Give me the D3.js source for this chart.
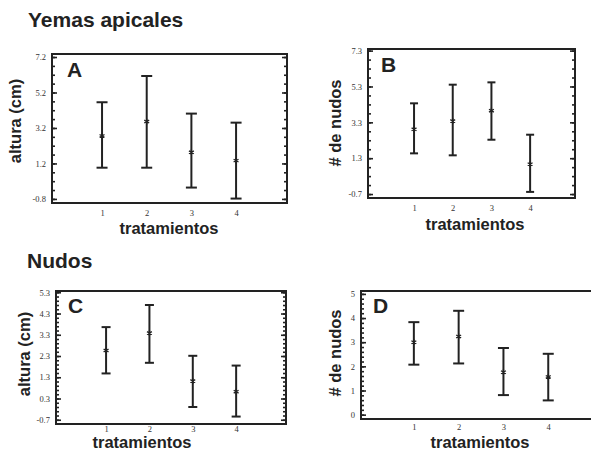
<!DOCTYPE html>
<html>
<head>
<meta charset="utf-8">
<script src="https://cdn.jsdelivr.net/npm/d3@7"></script>
<style>
  body { margin: 0; background: #fff; }
  svg { display: block; }
</style>
</head>
<body>
<div id="chart"></div>
<script>
var tratamientos = [1, 2, 3, 4];

// A - Yemas apicales, altura
var mediaA = [2.75, 3.56, 1.83, 1.36];
var infA = [0.96, 0.96, -0.16, -0.78];
var supA = [4.65, 6.13, 4.01, 3.50];
var ticksA = [-0.8, 1.2, 3.2, 5.2, 7.2];

// B - Yemas apicales, # de nudos
var mediaB = [2.91, 3.37, 3.95, 0.97];
var infB = [1.57, 1.46, 2.33, -0.58];
var supB = [4.36, 5.40, 5.53, 2.61];
var ticksB = [-0.7, 1.3, 3.3, 5.3, 7.3];

// C - Nudos, altura
var mediaC = [2.56, 3.38, 1.12, 0.62];
var infC = [1.48, 1.98, -0.10, -0.55];
var supC = [3.66, 4.70, 2.31, 1.85];
var ticksC = [-0.7, 0.3, 1.3, 2.3, 3.3, 4.3, 5.3];

// D - Nudos, # de nudos
var mediaD = [3.00, 3.24, 1.76, 1.56];
var infD = [2.07, 2.12, 0.81, 0.59];
var supD = [3.83, 4.30, 2.76, 2.52];
var ticksD = [0, 1, 2, 3, 4, 5];

var W = 591, H = 452;
var color = '#222';
var sansBold = '"Liberation Sans", Arial, sans-serif';
var serif = '"Liberation Serif", "Times New Roman", serif';

var svg = d3.select('#chart')
  .append('svg')
  .attr('width', W)
  .attr('height', H);

function fmt1(d) { return d.toFixed(1); }
function fmt0(d) { return String(d); }

// titulos de seccion
svg.append('text')
  .attr('x', 28).attr('y', 27)
  .attr('font-family', sansBold).attr('font-weight', 'bold')
  .attr('font-size', 21).attr('fill', color)
  .text('Yemas apicales');
svg.append('text')
  .attr('x', 27).attr('y', 268)
  .attr('font-family', sansBold).attr('font-weight', 'bold')
  .attr('font-size', 21).attr('fill', color)
  .text('Nudos');

function drawPanel(opt) {
  var x = d3.scaleLinear().domain(opt.xDomain).range([opt.left, opt.right]);
  var y = d3.scaleLinear().domain(opt.yDomain).range([opt.bottom, opt.top]);
  var g = svg.append('g').attr('class', 'panel');

  var minor = d3.range(d3.min(opt.ticks), opt.yDomain[1], opt.minorStep)
    .filter(function (d) { return d > opt.yDomain[0] && d < opt.yDomain[1]; });

  // ticks menores izquierda / derecha
  g.append('g')
    .attr('transform', 'translate(' + opt.left + ',0)')
    .call(d3.axisLeft(y).tickValues(minor).tickSize(-3).tickFormat(''))
    .call(function (s) { s.select('.domain').remove(); });
  g.append('g')
    .attr('transform', 'translate(' + opt.right + ',0)')
    .call(d3.axisRight(y).tickValues(minor).tickSize(-3).tickFormat(''))
    .call(function (s) { s.select('.domain').remove(); });

  // ticks mayores
  var yAxis = g.append('g')
    .attr('transform', 'translate(' + opt.left + ',0)')
    .call(d3.axisLeft(y).tickValues(opt.ticks).tickSize(-5).tickPadding(6).tickFormat(opt.format));
  yAxis.select('.domain').remove();
  yAxis.selectAll('text')
    .attr('font-family', serif).attr('font-size', 8.5).attr('fill', '#333');
  g.append('g')
    .attr('transform', 'translate(' + opt.right + ',0)')
    .call(d3.axisRight(y).tickValues(opt.ticks).tickSize(-5).tickFormat(''))
    .call(function (s) { s.select('.domain').remove(); });

  g.selectAll('.tick line').attr('stroke', color).attr('stroke-width', 1.6);

  var xAxis = g.append('g')
    .attr('transform', 'translate(0,' + opt.bottom + ')')
    .call(d3.axisBottom(x).tickValues(tratamientos).tickSize(0).tickPadding(opt.xPad).tickFormat(fmt0));
  xAxis.select('.domain').remove();
  xAxis.selectAll('text')
    .attr('font-family', serif).attr('font-size', 8.5).attr('fill', '#333');

  // marco
  g.append('rect')
    .attr('x', opt.left).attr('y', opt.top)
    .attr('width', opt.right - opt.left)
    .attr('height', opt.bottom - opt.top)
    .attr('fill', 'none')
    .attr('stroke', color)
    .attr('stroke-width', 2);

  var rows = tratamientos.map(function (t, i) {
    return { t: t, m: opt.media[i], lo: opt.inf[i], hi: opt.sup[i] };
  });

  var bars = g.selectAll('.bar')
    .data(rows)
    .enter()
    .append('g')
    .attr('class', 'bar')
    .attr('stroke', color)
    .attr('stroke-width', 2);

  bars.append('line')
    .attr('x1', function (d) { return x(d.t); })
    .attr('x2', function (d) { return x(d.t); })
    .attr('y1', function (d) { return y(d.lo); })
    .attr('y2', function (d) { return y(d.hi); });
  bars.append('line')
    .attr('x1', function (d) { return x(d.t) - opt.cap / 2; })
    .attr('x2', function (d) { return x(d.t) + opt.cap / 2; })
    .attr('y1', function (d) { return y(d.hi); })
    .attr('y2', function (d) { return y(d.hi); });
  bars.append('line')
    .attr('x1', function (d) { return x(d.t) - opt.cap / 2; })
    .attr('x2', function (d) { return x(d.t) + opt.cap / 2; })
    .attr('y1', function (d) { return y(d.lo); })
    .attr('y2', function (d) { return y(d.lo); });

  // media
  g.selectAll('.media')
    .data(rows)
    .enter()
    .append('path')
    .attr('class', 'media')
    .attr('d', d3.symbol().type(d3.symbolAsterisk).size(22))
    .attr('transform', function (d) { return 'translate(' + x(d.t) + ',' + y(d.m) + ')'; })
    .attr('fill', 'none')
    .attr('stroke', color)
    .attr('stroke-width', 1.3);

  // letra del panel
  g.append('text')
    .attr('x', opt.letterX).attr('y', opt.letterY)
    .attr('font-family', sansBold).attr('font-weight', 'bold')
    .attr('font-size', 21).attr('fill', color)
    .text(opt.letter);

  // titulos de ejes
  g.append('text')
    .attr('x', opt.xLabelX).attr('y', opt.xLabelY)
    .attr('text-anchor', 'middle')
    .attr('font-family', sansBold).attr('font-weight', 'bold')
    .attr('font-size', 16.5).attr('fill', color)
    .text('tratamientos');
  g.append('text')
    .attr('transform', 'translate(' + opt.yLabelX + ',' + opt.yLabelY + ') rotate(-90)')
    .attr('text-anchor', 'middle')
    .attr('font-family', sansBold).attr('font-weight', 'bold')
    .attr('font-size', 16.5).attr('fill', color)
    .text(opt.yLabel);
}

drawPanel({
  letter: 'A', letterX: 67, letterY: 77,
  left: 52, right: 287, top: 54, bottom: 203,
  xDomain: [-0.12, 5.14], yDomain: [-1.03, 7.37],
  ticks: ticksA, minorStep: 0.5, format: fmt1, cap: 11, xPad: 6.5,
  media: mediaA, inf: infA, sup: supA,
  yLabel: 'altura (cm)', yLabelX: 21, yLabelY: 121,
  xLabelX: 169, xLabelY: 234
});

drawPanel({
  letter: 'B', letterX: 381, letterY: 72,
  left: 368, right: 575, top: 49, bottom: 198,
  xDomain: [-0.19, 5.16], yDomain: [-0.92, 7.39],
  ticks: ticksB, minorStep: 0.5, format: fmt1, cap: 8, xPad: 6.5,
  media: mediaB, inf: infB, sup: supB,
  yLabel: '# de nudos', yLabelX: 341, yLabelY: 123,
  xLabelX: 475, xLabelY: 230
});

drawPanel({
  letter: 'C', letterX: 68, letterY: 313,
  left: 56, right: 286, top: 291, bottom: 424,
  xDomain: [-0.155, 5.15], yDomain: [-0.9, 5.36],
  ticks: ticksC, minorStep: 0.2, format: fmt1, cap: 9, xPad: 1.5,
  media: mediaC, inf: infC, sup: supC,
  yLabel: 'altura (cm)', yLabelX: 30, yLabelY: 354,
  xLabelX: 142, xLabelY: 448
});

drawPanel({
  letter: 'D', letterX: 373, letterY: 313,
  left: 361, right: 602, top: 291, bottom: 419,
  xDomain: [-0.18, 5.2], yDomain: [-0.18, 5.12],
  ticks: ticksD, minorStep: 0.2, format: fmt0, cap: 11, xPad: 5,
  media: mediaD, inf: infD, sup: supD,
  yLabel: '# de nudos', yLabelX: 341, yLabelY: 353,
  xLabelX: 480, xLabelY: 448
});
</script>
</body>
</html>
